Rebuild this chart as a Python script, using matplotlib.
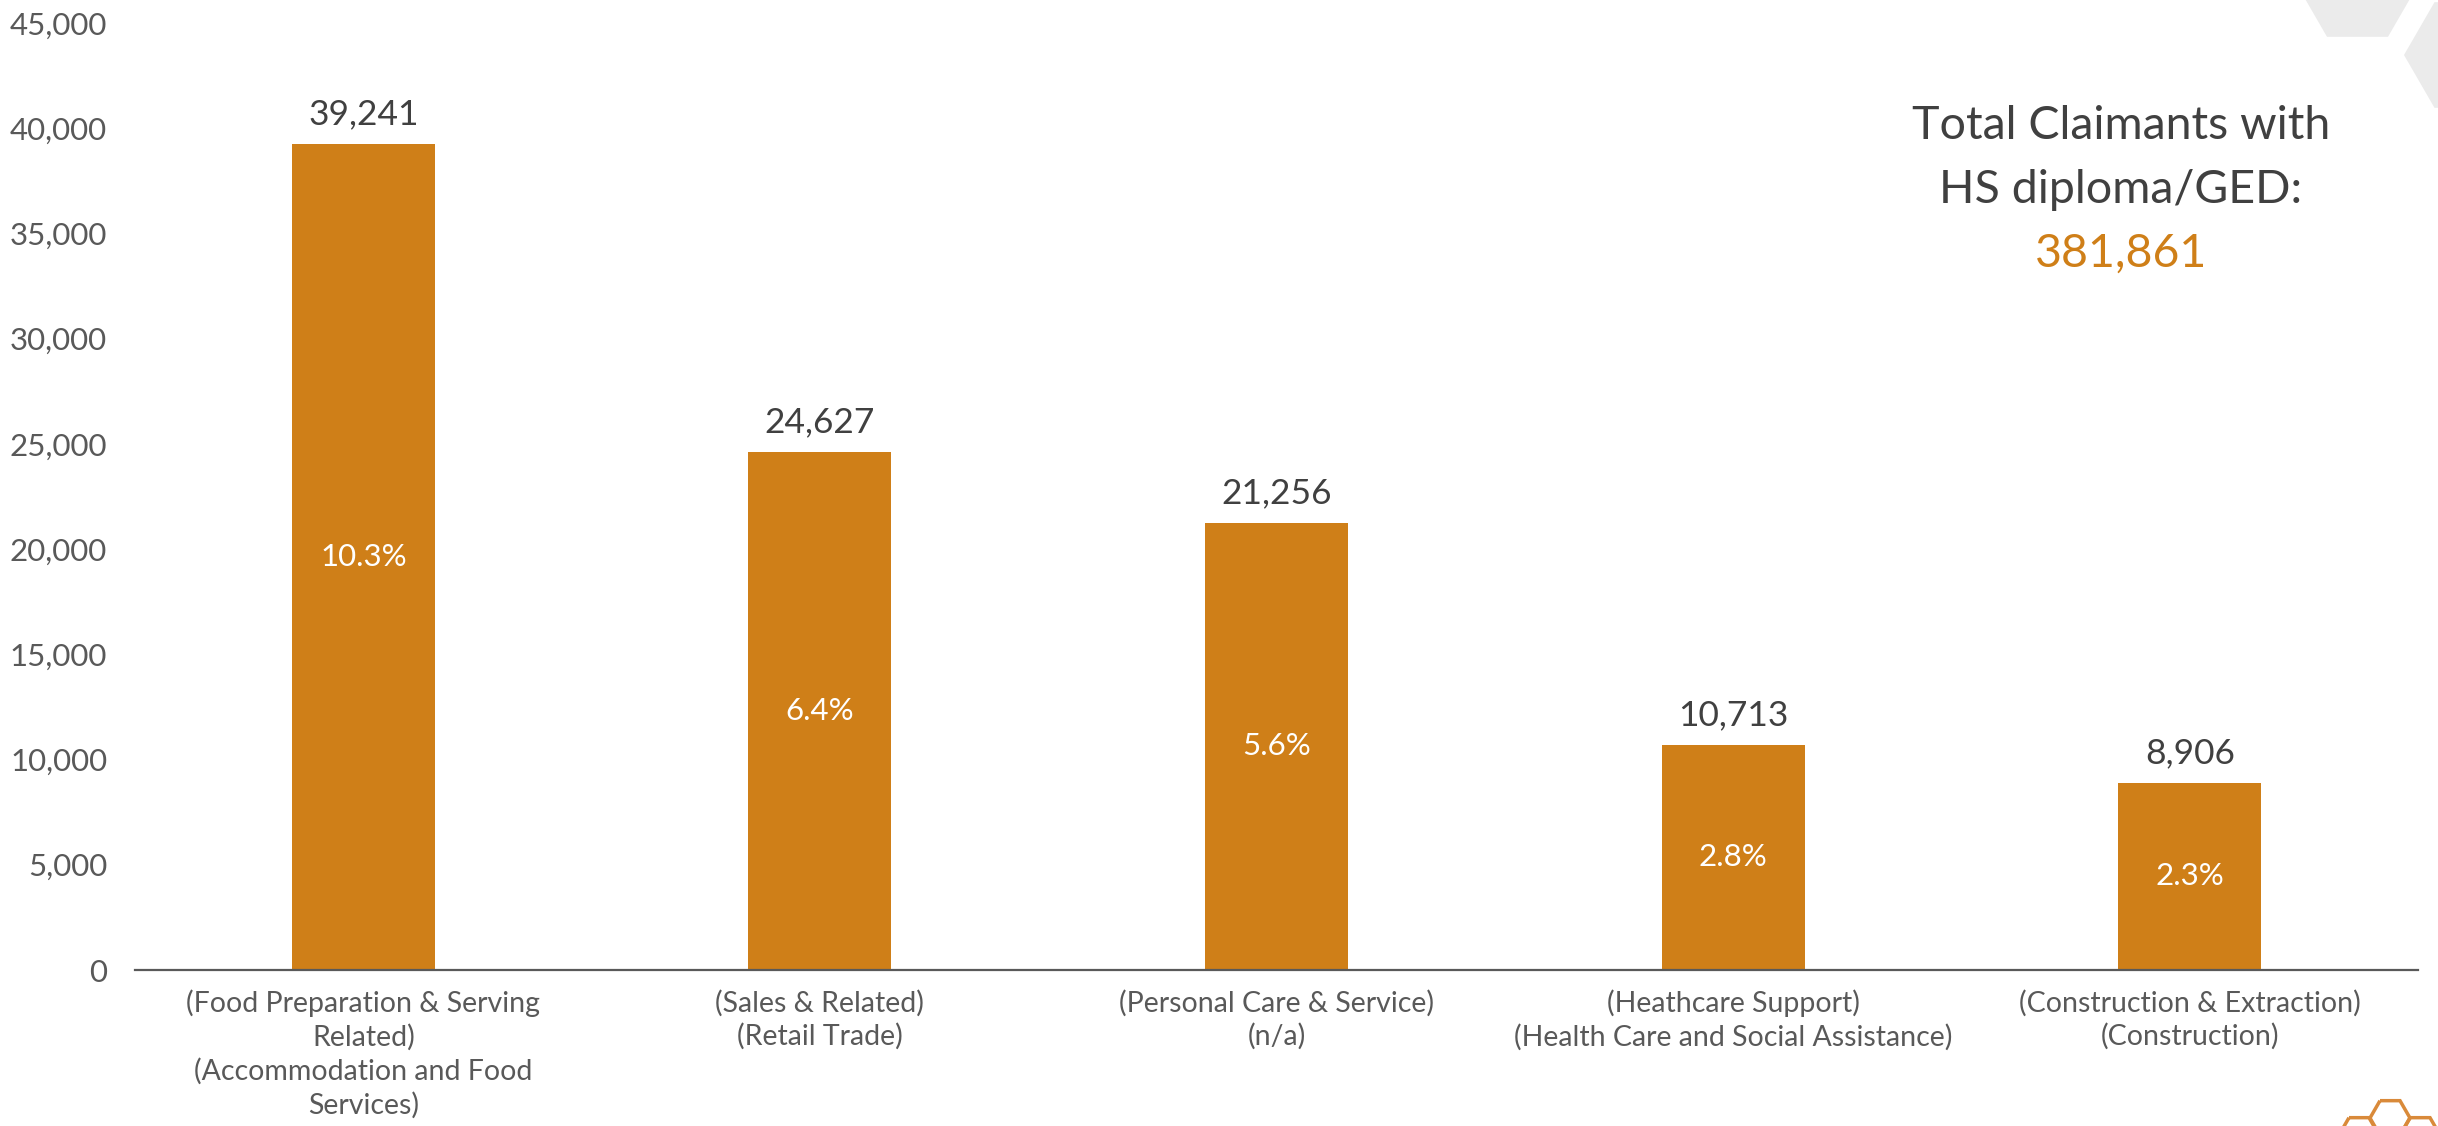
import numpy as np
import matplotlib
matplotlib.use("Agg")
import matplotlib.pyplot as plt
from matplotlib.patches import RegularPolygon

plt.rcParams['font.family'] = ['Lato', 'DejaVu Sans']

# data
categories = [
    "(Food Preparation & Serving\nRelated)\n(Accommodation and Food\nServices)",
    "(Sales & Related)\n(Retail Trade)",
    "(Personal Care & Service)\n(n/a)",
    "(Heathcare Support)\n(Health Care and Social Assistance)",
    "(Construction & Extraction)\n(Construction)",
]
claimants = [39241, 24627, 21256, 10713, 8906]
shares = ["10.3%", "6.4%", "5.6%", "2.8%", "2.3%"]
total_lines = ["Total Claimants with", "HS diploma/GED:"]
total_value = "381,861"

bar_color = '#CF7F18'
dark = '#404040'
grey = '#595959'

W, H = 2438, 1126
fig = plt.figure(figsize=(W/100, H/100), dpi=100)
ax = fig.add_axes([135/W, 1-970/H, (2418-135)/W, (970-23)/H])

# background decoration, in pixel coords (grey hexagons top right, orange honeycomb bottom right)
for cx, cy, r in [(2357.5, -16, 61), (2465, 55, 61)]:
    fig.patches.append(RegularPolygon((cx, H-cy), 6, radius=r, orientation=np.pi/6,
                                      transform=None, facecolor='#EBEBEB', edgecolor='none', zorder=0))
for cx, cy in [(2390, 1118), (2359, 1135), (2420, 1135)]:
    fig.patches.append(RegularPolygon((cx, H-cy), 6, radius=20, orientation=np.pi/6,
                                      transform=None, facecolor='none', edgecolor='#D98A3A',
                                      linewidth=2.5, zorder=0))

x = np.arange(len(categories))
ax.bar(x, claimants, width=0.313, color=bar_color, zorder=2)

for xi, v, s in zip(x, claimants, shares):
    ax.text(xi, v + 650, f"{v:,}", ha='center', va='bottom', fontsize=25.5, color=dark)
    ax.text(xi, v/2, s, ha='center', va='center', fontsize=22.5, color='white')

ax.set_xlim(-0.5, len(categories) - 0.5)
ax.set_ylim(0, 45000)
ax.set_yticks(np.arange(0, 45001, 5000))
ax.set_yticklabels([f"{t:,}" for t in range(0, 45001, 5000)])
ax.set_xticks(x)
ax.set_xticklabels(categories, fontsize=20.5, color=grey, linespacing=1.32)

ax.tick_params(axis='y', length=0, pad=20, labelsize=22.5, labelcolor=grey)
ax.tick_params(axis='x', length=0, pad=14)
for side in ['top', 'right', 'left']:
    ax.spines[side].set_visible(False)
ax.spines['bottom'].set_color(grey)
ax.spines['bottom'].set_linewidth(1.6)
ax.patch.set_alpha(0)

# total claimants callout
fig.text(2121/W, 1-139/H, total_lines[0], ha='center', va='baseline', fontsize=33.5, color=dark)
fig.text(2121/W, 1-203/H, total_lines[1], ha='center', va='baseline', fontsize=33.5, color=dark)
fig.text(2121/W, 1-267/H, total_value, ha='center', va='baseline', fontsize=33.5, color=bar_color)

fig.savefig("out.png", dpi=100)
